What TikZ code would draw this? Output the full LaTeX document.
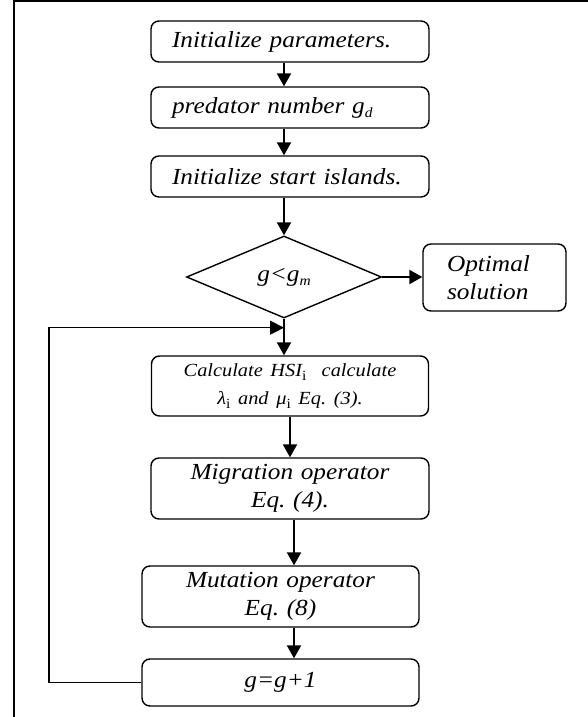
\documentclass[tikz,border=0pt]{standalone}
\usepackage{fontspec}
\setmainfont[FakeStretch=1.1]{Liberation Serif}
\usetikzlibrary{arrows.meta,shapes.geometric}
\newcommand{\lowsub}[1]{\raisebox{-4pt}{\fontsize{14}{14}\selectfont #1}}
\frenchspacing
\hyphenpenalty=10000
\begin{document}
\begin{tikzpicture}[x=1pt,y=-1pt,
  box/.style={draw, line width=1.4pt, rounded corners=8pt, inner ysep=0pt,
    font=\fontsize{23}{27.5}\selectfont\itshape\frenchspacing},
  leftbox/.style={box, inner xsep=0pt, text width=278pt, align=left,
    minimum width=278pt},
  midbox/.style={box, inner xsep=2pt, text width=273pt, align=center,
    minimum width=277pt},
  decision/.style={draw, line width=1.4pt, diamond, aspect=2.38, inner sep=0pt,
    minimum width=195pt, minimum height=82pt,
    font=\fontsize{23}{27.5}\selectfont\itshape},
  arr/.style={line width=2.2pt, -{Triangle[length=13pt,width=14pt]}},
  looparr/.style={line width=1.3pt, -{Triangle[length=14pt,width=14pt]}},
  frame/.style={line width=1.4pt}]
\useasboundingbox (0,0) rectangle (588,717);
% frame (top and left edges)
\coordinate (fl) at (14,717);
\coordinate (fc) at (14,1);
\coordinate (fr) at (588,1);
\draw[frame] (fl) -- (fc) -- (fr);
% nodes
\node[leftbox, minimum height=41pt] (b1) at (290,41.5) {\hspace*{21pt}Initialize parameters.};
\node[leftbox, minimum height=41pt] (b2) at (290,107.5) {\hspace*{21pt}predator number g\lowsub{d}};
\node[leftbox, minimum height=41pt] (b3) at (290,176.5) {\hspace*{21pt}Initialize start islands.};
\node[decision] (d) at (284,277) {g<g\lowsub{m}};
\node[box, minimum width=143pt, minimum height=67pt, inner xsep=24pt,
  text width=95pt, align=left] (opt) at (494.5,277.5) {Optimal\\solution};
\node[midbox, minimum height=60pt] (b4) at (290,386)
  {\fontsize{18.5}{27}\selectfont Calculate HSI\lowsub{\upshape i}\ \ calculate\\λ\lowsub{\upshape i} and μ\lowsub{\upshape i} Eq. (3).};
\node[midbox, minimum width=278pt, minimum height=61pt] (b5) at (290,488.5)
  {Migration operator\\Eq. (4).};
\node[midbox, minimum height=61pt] (b6) at (280.5,596.5)
  {Mutation operator\\Eq. (8)};
\node[midbox, minimum height=47pt] (b7) at (280.5,682.5) {g=g+1};
% connectors
\draw[arr] ([xshift=-6pt]b1.south) -- ([xshift=-6pt]b2.north);
\draw[arr] ([xshift=-6pt]b2.south) -- ([xshift=-6pt]b3.north);
\draw[arr] ([xshift=-6pt]b3.south) -- (d.north);
\draw[arr] (d.east) -- (d.east -| opt.west);
\draw[arr] (d.south) -- (d.south |- b4.north);
\draw[arr] (b4.south) -- (b4.south |- b5.north);
\draw[arr] ([xshift=4pt]b5.south) -- ([xshift=13.5pt]b6.north);
\draw[arr] ([xshift=13.5pt]b6.south) -- ([xshift=13.5pt]b7.north);
\coordinate (lp) at ([yshift=-9pt]d.south);
\coordinate (lc) at (49,682.5);
\draw[looparr] (b7.west) -- (lc) -- (lc |- lp) -- (lp);
\end{tikzpicture}
\end{document}
